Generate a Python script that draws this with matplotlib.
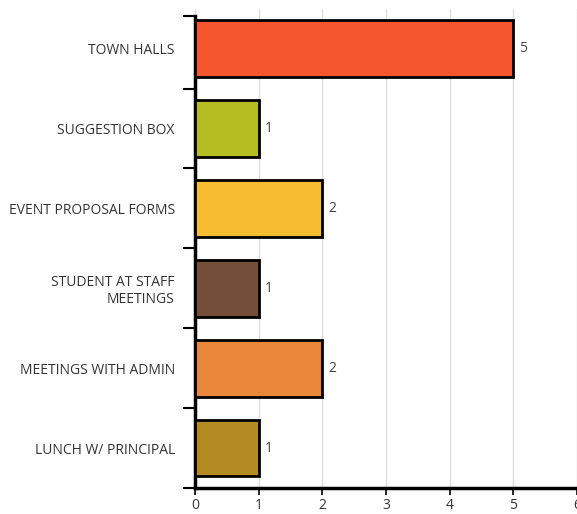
import matplotlib
matplotlib.use("Agg")
import matplotlib.pyplot as plt
import numpy as np

plt.rcParams['font.family'] = ['Open Sans', 'DejaVu Sans']

categories = ["TOWN HALLS", "SUGGESTION BOX", "EVENT PROPOSAL FORMS",
              "STUDENT AT STAFF\nMEETINGS", "MEETINGS WITH ADMIN",
              "LUNCH W/ PRINCIPAL"]
values = [5, 1, 2, 1, 2, 1]
colors = ["#F5552F", "#B5BD23", "#F5BD2F", "#744E38", "#E8873A", "#B38B22"]
xticks = [0, 1, 2, 3, 4, 5, 6]

W, H = 577, 514
top_px, bot_px, left_px = 8.6, 488, 195
fig = plt.figure(figsize=(W / 100, H / 100), dpi=100)
ax = fig.add_axes([left_px / W, 1 - bot_px / H, 1 - left_px / W,
                   (bot_px - top_px) / H])

n = len(categories)
ypos = np.arange(n)[::-1]  # first category on top
ax.barh(ypos, values, height=0.71, color=colors, edgecolor="black",
        linewidth=2, zorder=3)
for y, v in zip(ypos, values):
    ax.text(v + 0.09, y, str(v), va="center", ha="left", fontsize=10,
            color="#444444")

ax.set_xlim(0, 6)
ax.set_ylim(-0.5, n - 0.5)
ax.set_xticks(xticks)
ax.set_xticklabels([str(t) for t in xticks], fontsize=10, color="#333333")
ax.grid(axis="x", color="#dddddd", linewidth=1, zorder=0)

# axis line stops a little below the top band edge
band = (bot_px - top_px) / n
y_top = n - 0.5 - (16 - top_px) / band
bounds = list(np.arange(-0.5, n - 1, 1.0)) + [y_top]

ax.set_yticks(bounds)
ax.set_yticklabels([])
ax.set_yticks(ypos, minor=True)
ax.set_yticklabels(categories, minor=True, fontsize=10, color="#333333")
ax.tick_params(axis="y", which="major", length=9, width=1.5)
ax.tick_params(axis="y", which="minor", length=0, pad=14.5)
ax.tick_params(axis="x", length=5, width=1.2, pad=2)

for s in ("top", "right"):
    ax.spines[s].set_visible(False)
for s in ("left", "bottom"):
    ax.spines[s].set_linewidth(2.5)
ax.spines["left"].set_bounds(-0.5, y_top)
ax.set_axisbelow(True)

fig.savefig("out.png", dpi=100)
